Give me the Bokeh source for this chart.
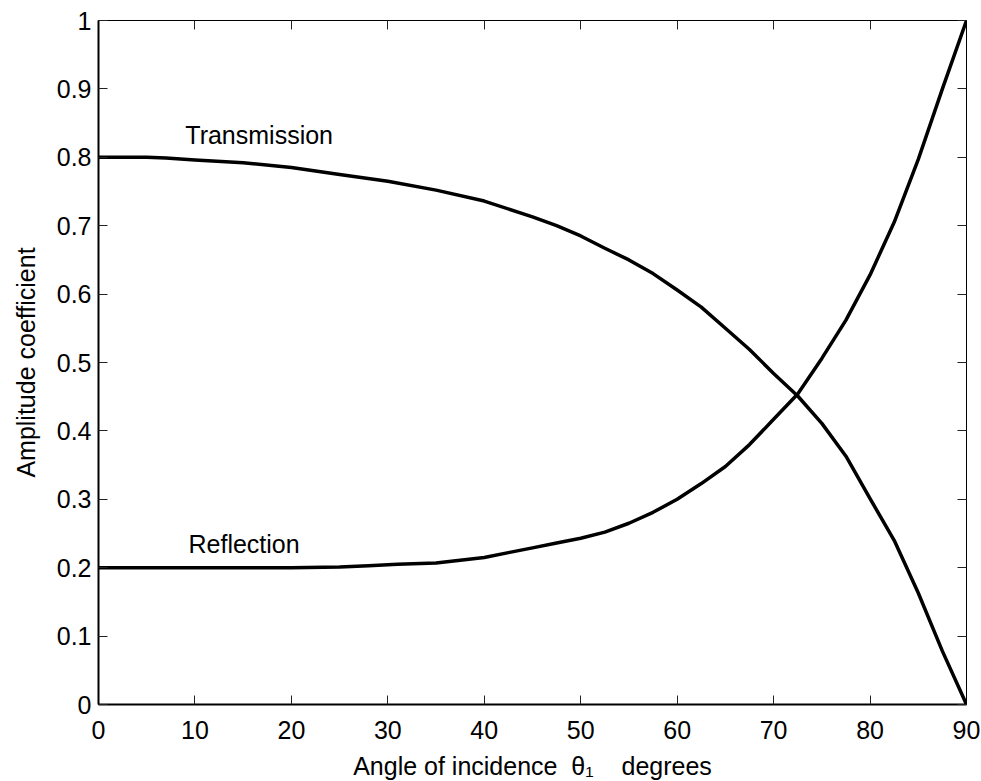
from bokeh.plotting import figure
from bokeh.models import Range1d, LinearAxis, Label, FixedTicker
from bokeh.embed import file_html
from bokeh.resources import INLINE

# ---- data ----
angle_T = [0, 5, 7, 10, 15, 20, 25, 30, 35, 40, 45, 47.5, 50, 52.5, 55, 57.5,
           60, 62.5, 65, 67.5, 70, 72.5, 75, 77.5, 80, 82.5, 85, 87.5, 90]
trans = [0.800, 0.800, 0.799, 0.796, 0.792, 0.785, 0.775, 0.765, 0.752, 0.736,
         0.713, 0.700, 0.685, 0.667, 0.650, 0.630, 0.606, 0.581, 0.550, 0.519,
         0.484, 0.451, 0.411, 0.363, 0.301, 0.240, 0.163, 0.078, 0.0]

angle_R = [0, 10, 20, 25, 28, 31, 35, 37.5, 40, 42.5, 45, 47.5, 50, 52.5, 55,
           57.5, 60, 62.5, 65, 67.5, 70, 72.5, 75, 77.5, 80, 82.5, 85, 87.5, 90]
refl = [0.200, 0.200, 0.200, 0.201, 0.203, 0.205, 0.207, 0.211, 0.215, 0.222,
        0.229, 0.236, 0.243, 0.252, 0.265, 0.281, 0.300, 0.323, 0.348, 0.380,
        0.417, 0.454, 0.506, 0.562, 0.628, 0.705, 0.797, 0.900, 1.0]

x_ticks = [0, 10, 20, 30, 40, 50, 60, 70, 80, 90]
x_tick_labels = ["0", "10", "20", "30", "40", "50", "60", "70", "80", "90"]
y_ticks = [0, 0.1, 0.2, 0.3, 0.4, 0.5, 0.6, 0.7, 0.8, 0.9, 1]
y_tick_labels = ["0", "0.1", "0.2", "0.3", "0.4", "0.5", "0.6", "0.7", "0.8", "0.9", "1"]

FONT = "Liberation Sans"
FS = "25px"
NB = "\u00a0"

p = figure(frame_width=868, frame_height=684,
           x_range=Range1d(0, 90), y_range=Range1d(0, 1),
           output_backend="svg", toolbar_location=None,
           min_border_left=98, min_border_right=14,
           min_border_top=20, min_border_bottom=76)
p.grid.visible = False
p.background_fill_color = "white"
p.border_fill_color = "white"
p.outline_line_color = "black"
p.outline_line_width = 1

xa = p.xaxis[0]
ya = p.yaxis[0]
xa.ticker = FixedTicker(ticks=x_ticks)
ya.ticker = FixedTicker(ticks=y_ticks)
xa.major_label_overrides = dict(zip(x_ticks, x_tick_labels))
ya.major_label_overrides = dict(zip(y_ticks, y_tick_labels))
for ax in (xa, ya):
    ax.major_tick_in = 9
    ax.major_tick_out = 0
    ax.major_tick_line_color = "#222222"
    ax.minor_tick_line_color = None
    ax.axis_line_width = 2
    ax.axis_line_color = "black"
    ax.major_label_text_font = FONT
    ax.major_label_text_font_size = FS
    ax.major_label_text_color = "black"
    ax.axis_label_text_font = FONT
    ax.axis_label_text_font_size = FS
    ax.axis_label_text_font_style = "normal"
    ax.axis_label_text_color = "black"
xa.major_label_standoff = 16
ya.major_label_standoff = 7
ya.axis_label = "Amplitude coefficient"
ya.axis_label_standoff = 14
xa.axis_label = "Angle of incidence " + NB + "\u03b8\u2081" + NB * 3 + " degrees"
xa.axis_label_standoff = 10

right = LinearAxis(ticker=FixedTicker(ticks=y_ticks))
top = LinearAxis(ticker=FixedTicker(ticks=x_ticks))
right.major_label_overrides = {t: "" for t in y_ticks}
top.major_label_overrides = {t: "" for t in x_ticks}
for ax in (right, top):
    ax.major_tick_in = 9
    ax.major_tick_out = 0
    ax.major_tick_line_color = "#222222"
    ax.minor_tick_line_color = None
    ax.axis_line_width = 1
    ax.axis_line_color = "black"
    ax.major_label_standoff = 0
p.add_layout(right, "right")
p.add_layout(top, "above")

p.line(angle_T, trans, line_width=3.5, line_color="black", line_join="round")
p.line(angle_R, refl, line_width=3.5, line_color="black", line_join="round")

p.add_layout(Label(x=9.0, y=0.832, text="Transmission", text_font=FONT,
                   text_font_size=FS, text_color="black", text_baseline="alphabetic"))
p.add_layout(Label(x=9.33, y=0.235, text="Reflection", text_font=FONT,
                   text_font_size=FS, text_color="black", text_baseline="alphabetic"))

open("out.html", "w").write(file_html(p, INLINE))
